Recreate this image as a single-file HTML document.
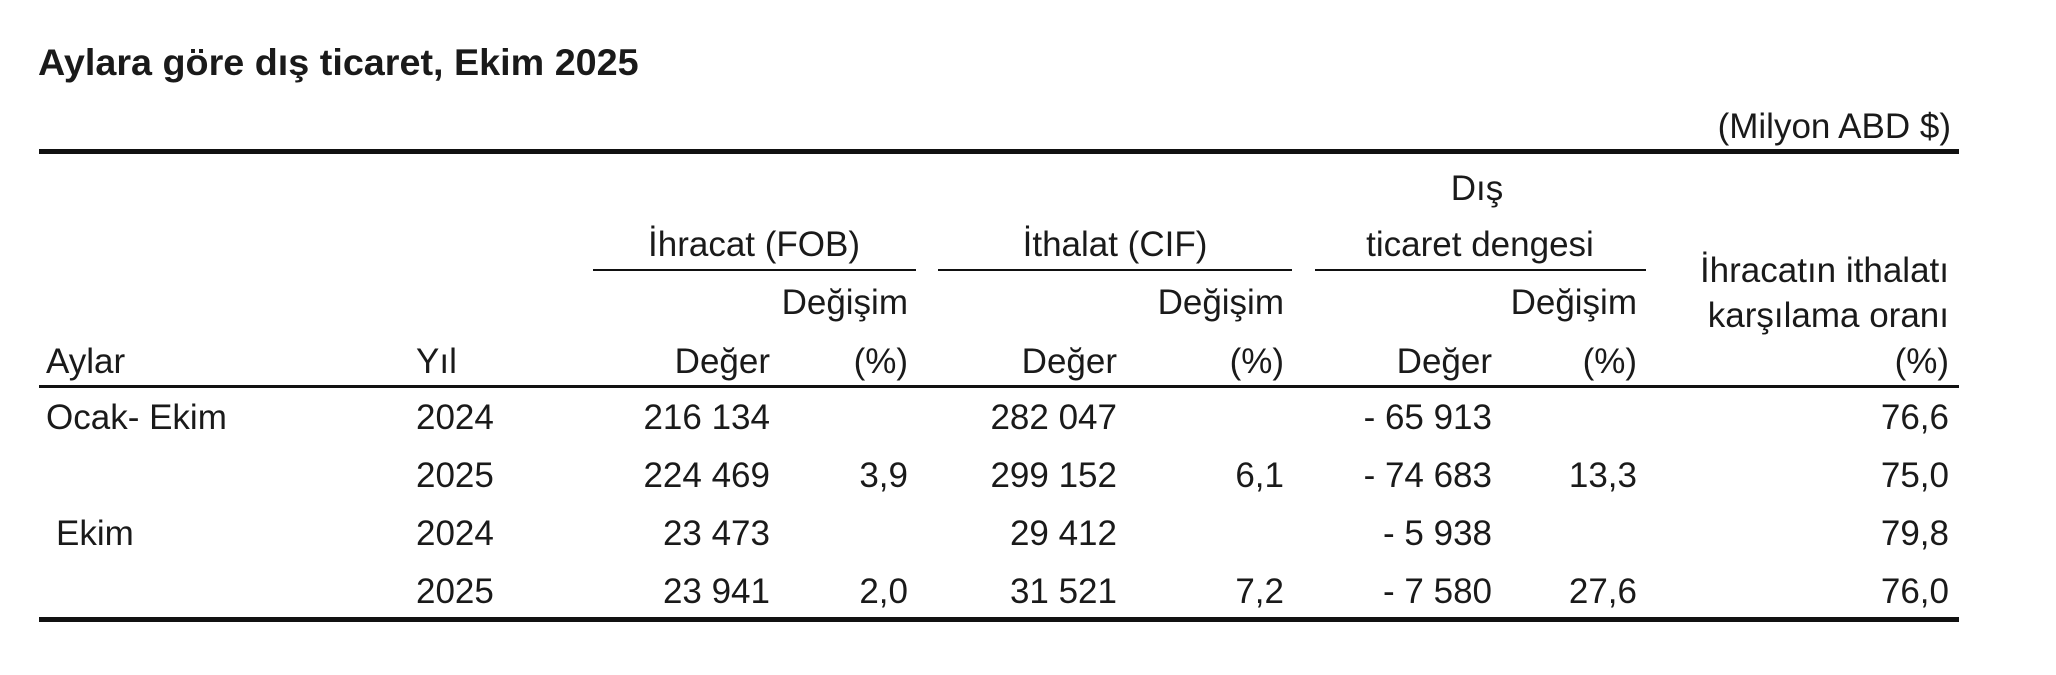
<!DOCTYPE html>
<html><head><meta charset="utf-8"><style>
html,body{margin:0;padding:0;background:#fff;}
body{width:2056px;height:675px;position:relative;overflow:hidden;font-family:"Liberation Sans",Arial,sans-serif;color:#1a1a1a;}
.t{position:absolute;font-size:35px;line-height:40px;white-space:nowrap;}
.r{text-align:right;}
.ln{position:absolute;background:#111;}
</style></head><body>
<div class="t" style="left:38px;top:43px;font-size:37px;font-weight:bold;transform:scaleX(1.02);transform-origin:left;">Aylara göre dış ticaret, Ekim 2025</div>
<div class="t r" style="right:105px;top:107px;">(Milyon ABD $)</div>
<div class="ln" style="left:39px;width:1920px;top:149px;height:5px;"></div>

<div class="t" style="left:1477px;top:169px;transform:translateX(-50%);">Dış</div>
<div class="t" style="left:754px;top:225px;transform:translateX(-50%);">İhracat (FOB)</div>
<div class="t" style="left:1115px;top:225px;transform:translateX(-50%);">İthalat (CIF)</div>
<div class="t" style="left:1480px;top:225px;transform:translateX(-50%);">ticaret dengesi</div>
<div class="ln" style="left:593px;width:323px;top:269px;height:2px;"></div>
<div class="ln" style="left:938px;width:354px;top:269px;height:2px;"></div>
<div class="ln" style="left:1315px;width:331px;top:269px;height:2px;"></div>
<div class="t r" style="right:107px;top:251px;">İhracatın ithalatı</div>
<div class="t r" style="right:107px;top:296px;">karşılama oranı</div>
<div class="t r" style="right:1148px;top:283px;">Değişim</div>
<div class="t r" style="right:772px;top:283px;">Değişim</div>
<div class="t r" style="right:419px;top:283px;">Değişim</div>

<div class="t" style="left:46px;top:342px;">Aylar</div>
<div class="t" style="left:416px;top:342px;">Yıl</div>
<div class="t r" style="right:1286px;top:342px;">Değer</div>
<div class="t r" style="right:1148px;top:342px;">(%)</div>
<div class="t r" style="right:939px;top:342px;">Değer</div>
<div class="t r" style="right:772px;top:342px;">(%)</div>
<div class="t r" style="right:564px;top:342px;">Değer</div>
<div class="t r" style="right:419px;top:342px;">(%)</div>
<div class="t r" style="right:107px;top:342px;">(%)</div>
<div class="ln" style="left:39px;width:1920px;top:385px;height:3px;"></div>

<div class="t" style="left:46px;top:398px;">Ocak- Ekim</div>
<div class="t" style="left:416px;top:398px;">2024</div>
<div class="t r" style="right:1286px;top:398px;">216 134</div>
<div class="t r" style="right:939px;top:398px;">282 047</div>
<div class="t r" style="right:564px;top:398px;">- 65 913</div>
<div class="t r" style="right:107px;top:398px;">76,6</div>

<div class="t" style="left:416px;top:456px;">2025</div>
<div class="t r" style="right:1286px;top:456px;">224 469</div>
<div class="t r" style="right:1148px;top:456px;">3,9</div>
<div class="t r" style="right:939px;top:456px;">299 152</div>
<div class="t r" style="right:772px;top:456px;">6,1</div>
<div class="t r" style="right:564px;top:456px;">- 74 683</div>
<div class="t r" style="right:419px;top:456px;">13,3</div>
<div class="t r" style="right:107px;top:456px;">75,0</div>

<div class="t" style="left:56px;top:514px;">Ekim</div>
<div class="t" style="left:416px;top:514px;">2024</div>
<div class="t r" style="right:1286px;top:514px;">23 473</div>
<div class="t r" style="right:939px;top:514px;">29 412</div>
<div class="t r" style="right:564px;top:514px;">- 5 938</div>
<div class="t r" style="right:107px;top:514px;">79,8</div>

<div class="t" style="left:416px;top:572px;">2025</div>
<div class="t r" style="right:1286px;top:572px;">23 941</div>
<div class="t r" style="right:1148px;top:572px;">2,0</div>
<div class="t r" style="right:939px;top:572px;">31 521</div>
<div class="t r" style="right:772px;top:572px;">7,2</div>
<div class="t r" style="right:564px;top:572px;">- 7 580</div>
<div class="t r" style="right:419px;top:572px;">27,6</div>
<div class="t r" style="right:107px;top:572px;">76,0</div>
<div class="ln" style="left:39px;width:1920px;top:617px;height:5px;"></div>
</body></html>
